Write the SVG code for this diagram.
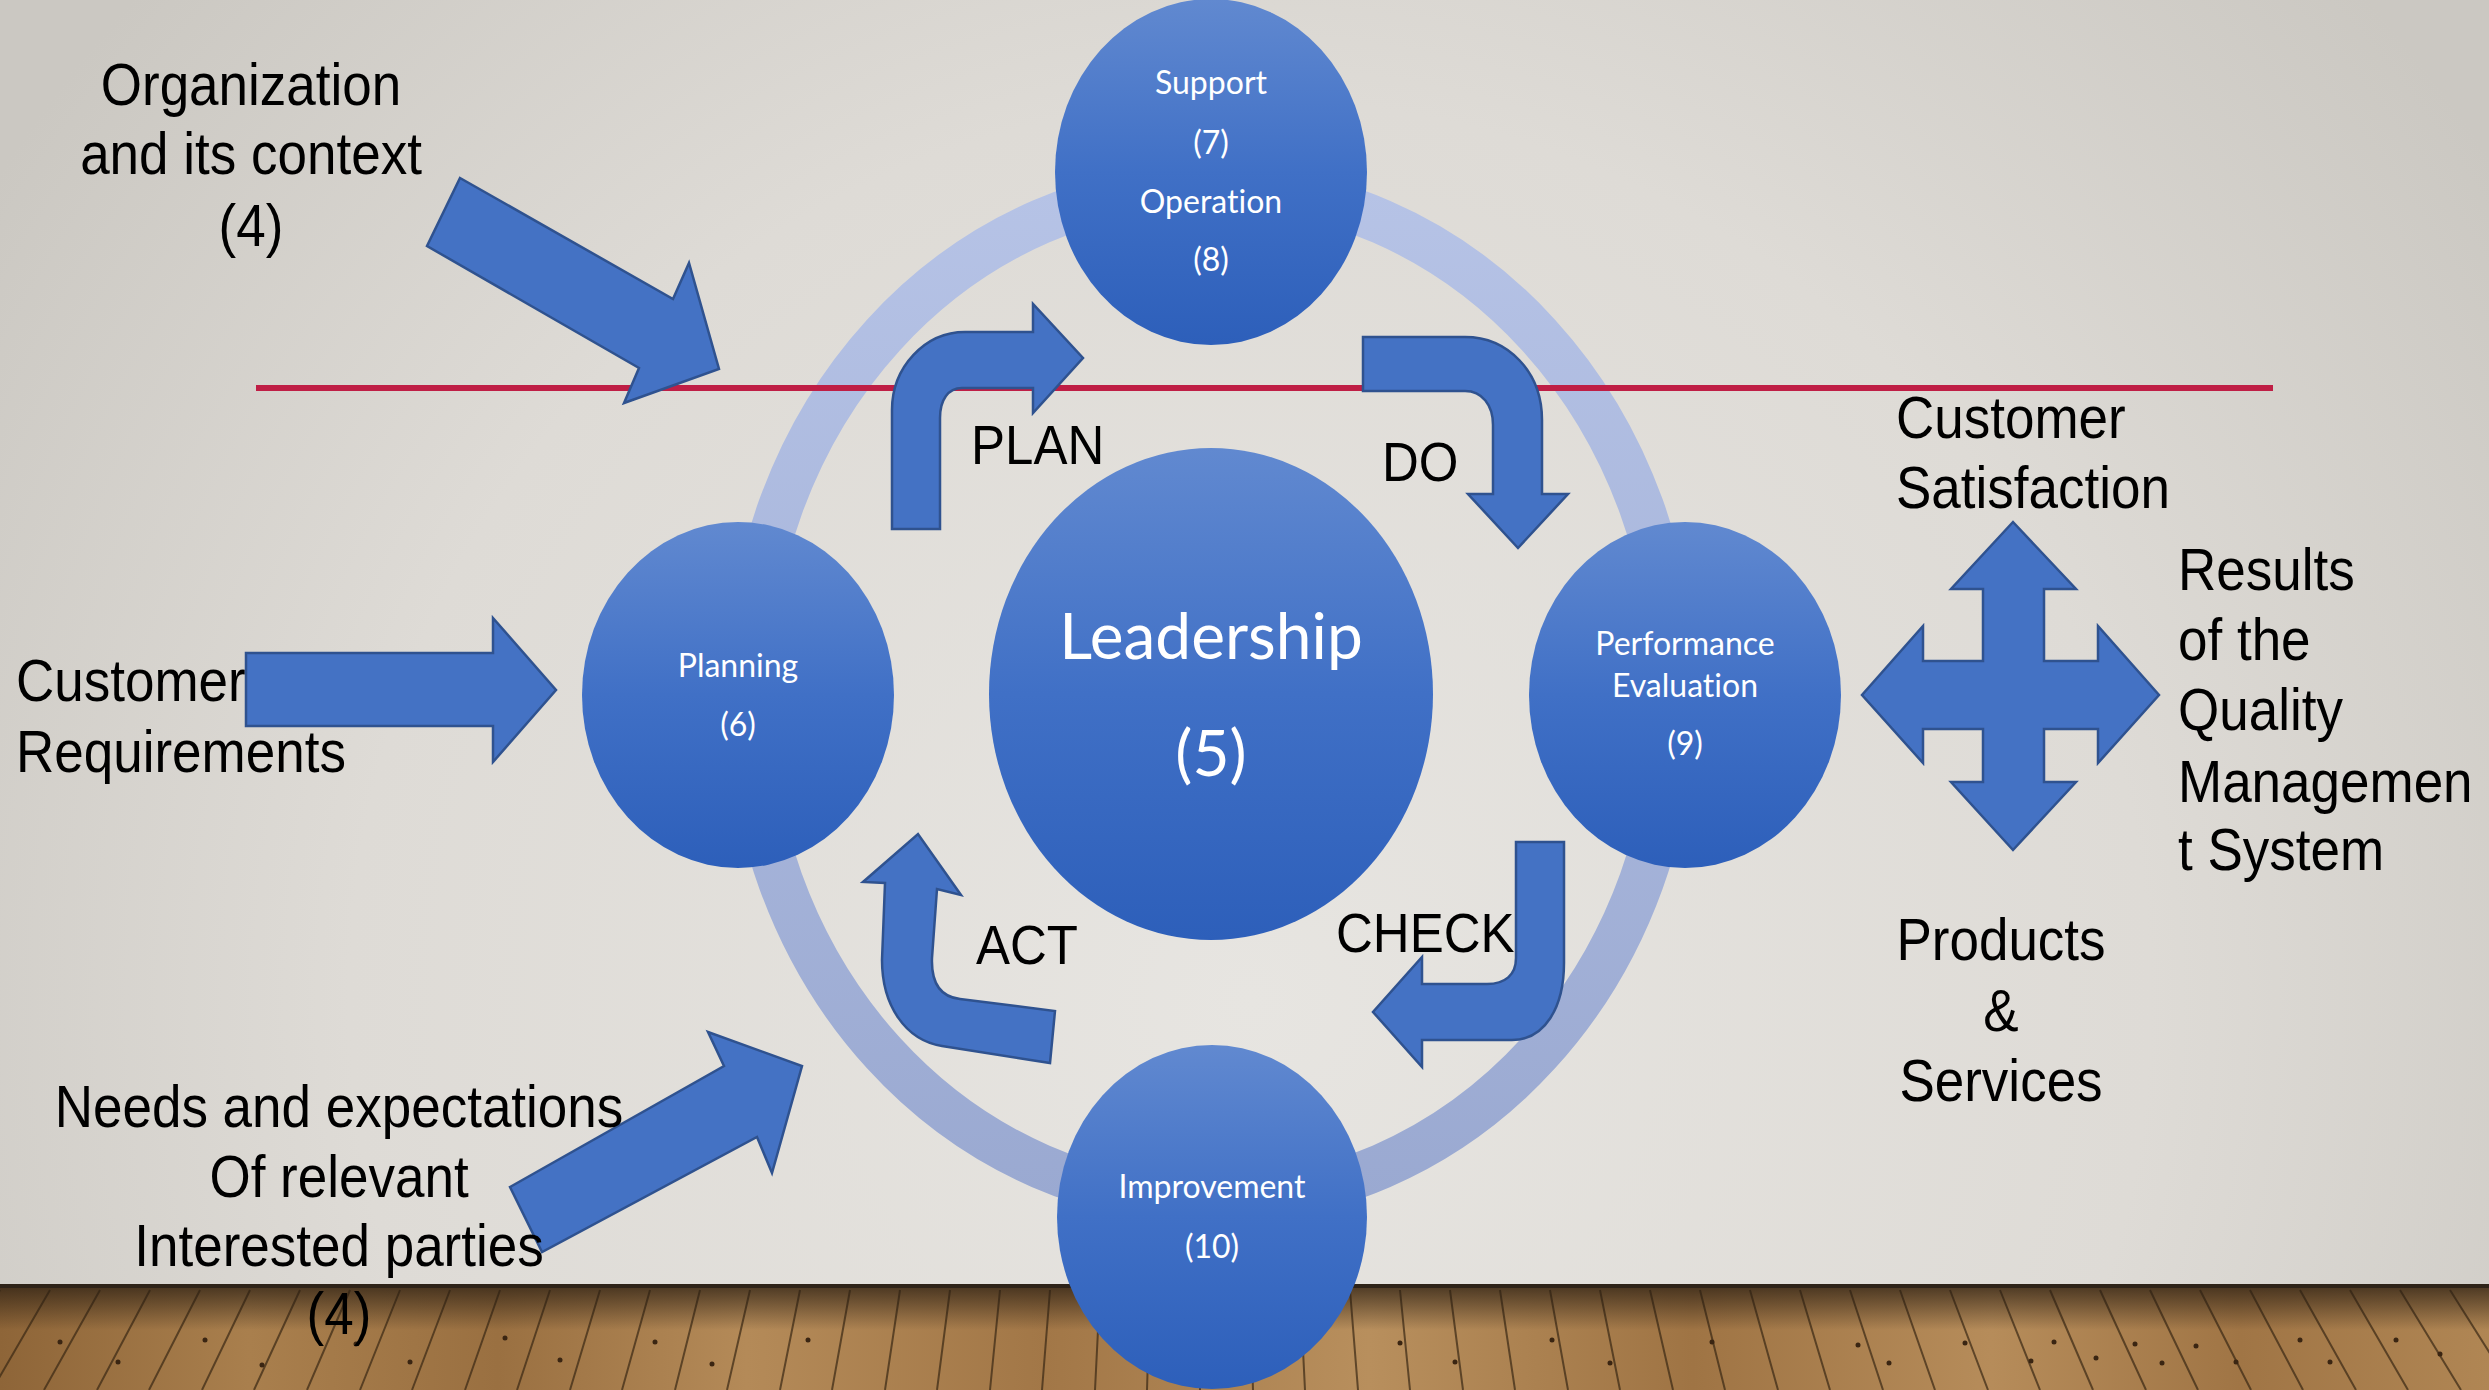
<svg xmlns="http://www.w3.org/2000/svg" width="2489" height="1390" viewBox="0 0 2489 1390">
<defs>
<radialGradient id="wall" cx="1250" cy="1000" r="1500" gradientUnits="userSpaceOnUse">
<stop offset="0" stop-color="#e7e5e1"/>
<stop offset="0.6" stop-color="#dedbd6"/>
<stop offset="1" stop-color="#cbc8c2"/>
</radialGradient>
<linearGradient id="wood" x1="0" y1="0" x2="2489" y2="0" gradientUnits="userSpaceOnUse">
<stop offset="0" stop-color="#8e6538"/>
<stop offset="0.1" stop-color="#a97f4d"/>
<stop offset="0.2" stop-color="#9a7041"/>
<stop offset="0.3" stop-color="#b48a58"/>
<stop offset="0.42" stop-color="#a27747"/>
<stop offset="0.55" stop-color="#b88f5d"/>
<stop offset="0.68" stop-color="#9f7444"/>
<stop offset="0.8" stop-color="#b68c5a"/>
<stop offset="0.9" stop-color="#a07545"/>
<stop offset="1" stop-color="#b08654"/>
</linearGradient>
<linearGradient id="floorShade" x1="0" y1="1286" x2="0" y2="1330" gradientUnits="userSpaceOnUse">
<stop offset="0" stop-color="#2a1e12" stop-opacity="0.75"/>
<stop offset="1" stop-color="#2a1e12" stop-opacity="0"/>
</linearGradient>
<linearGradient id="ringGrad" x1="0" y1="186" x2="0" y2="1202" gradientUnits="userSpaceOnUse">
<stop offset="0" stop-color="#b6c3e6"/>
<stop offset="1" stop-color="#9aa9d1"/>
</linearGradient>
<linearGradient id="ballGrad" x1="0" y1="0" x2="0" y2="1">
<stop offset="0" stop-color="#6189d0"/>
<stop offset="0.5" stop-color="#4070c6"/>
<stop offset="1" stop-color="#2d5fba"/>
</linearGradient>
<style>
.ball{fill:url(#ballGrad);}
.btxt{fill:#ffffff;font-family:Lato,"Open Sans",sans-serif;font-size:32px;text-anchor:middle;font-variant-ligatures:none;}
.big{font-size:64px;}
.lbl{fill:#000000;font-family:"Liberation Sans",Arial,sans-serif;font-size:53px;}
.pdca{font-size:51px;}
.mid{text-anchor:middle;}
.blk{fill:#4472c4;stroke:#2f528f;stroke-width:2.5;stroke-linejoin:miter;}
.plank{stroke:#3a2814;stroke-width:2;opacity:0.7;}
.nail{fill:#3a2512;}
</style>
</defs>

<!-- wall -->
<rect x="0" y="0" width="2489" height="1390" fill="url(#wall)"/>

<!-- floor -->
<g id="floor">
<rect x="0" y="1286" width="2489" height="104" fill="url(#wood)"/>
<path class="plank" d="M0,1290L-61,1390M50,1290L-8,1390M100,1290L44,1390M150,1290L97,1390M200,1290L149,1390M250,1290L202,1390M300,1290L254,1390M350,1290L307,1390M400,1290L360,1390M450,1290L412,1390M500,1290L465,1390M550,1290L517,1390M600,1290L570,1390M650,1290L622,1390M700,1290L675,1390M750,1290L727,1390M800,1290L780,1390M850,1290L832,1390M900,1290L885,1390M950,1290L937,1390M1000,1290L990,1390M1050,1290L1042,1390M1100,1290L1095,1390M1150,1290L1147,1390M1200,1290L1200,1390M1250,1290L1253,1390M1300,1290L1305,1390M1350,1290L1358,1390M1400,1290L1410,1390M1450,1290L1463,1390M1500,1290L1515,1390M1550,1290L1568,1390M1600,1290L1620,1390M1650,1290L1673,1390M1700,1290L1725,1390M1750,1290L1778,1390M1800,1290L1830,1390M1850,1290L1883,1390M1900,1290L1935,1390M1950,1290L1988,1390M2000,1290L2040,1390M2050,1290L2093,1390M2100,1290L2146,1390M2150,1290L2198,1390M2200,1290L2251,1390M2250,1290L2303,1390M2300,1290L2356,1390M2350,1290L2408,1390M2400,1290L2461,1390M2450,1290L2513,1390"/>
<g class="nail">
<circle cx="60" cy="1342" r="2.5"/><circle cx="118" cy="1362" r="2.5"/><circle cx="205" cy="1340" r="2.5"/><circle cx="262" cy="1365" r="2.5"/>
<circle cx="356" cy="1344" r="2.5"/><circle cx="410" cy="1362" r="2.5"/><circle cx="505" cy="1338" r="2.5"/><circle cx="560" cy="1360" r="2.5"/>
<circle cx="655" cy="1342" r="2.5"/><circle cx="712" cy="1364" r="2.5"/><circle cx="808" cy="1340" r="2.5"/><circle cx="1400" cy="1343" r="2.5"/>
<circle cx="1455" cy="1362" r="2.5"/><circle cx="1552" cy="1340" r="2.5"/><circle cx="1610" cy="1363" r="2.5"/><circle cx="1712" cy="1342" r="2.5"/>
<circle cx="1858" cy="1345" r="2.5"/><circle cx="1889" cy="1363" r="2.5"/><circle cx="1965" cy="1343" r="2.5"/><circle cx="2031" cy="1361" r="2.5"/>
<circle cx="2054" cy="1342" r="2.5"/><circle cx="2096" cy="1358" r="2.5"/><circle cx="2135" cy="1344" r="2.5"/><circle cx="2162" cy="1363" r="2.5"/>
<circle cx="2196" cy="1346" r="2.5"/><circle cx="2236" cy="1362" r="2.5"/><circle cx="2300" cy="1340" r="2.5"/><circle cx="2330" cy="1362" r="2.5"/>
<circle cx="2396" cy="1340" r="2.5"/><circle cx="2440" cy="1354" r="2.5"/>
</g>
<rect x="0" y="1286" width="2489" height="44" fill="url(#floorShade)"/>
<rect x="0" y="1284" width="2489" height="4" fill="#2e2318"/>
</g>

<!-- cycle ring -->
<ellipse id="ring" cx="1211" cy="694" rx="463" ry="508" fill="none" stroke="url(#ringGrad)" stroke-width="45"/>

<!-- red divider line -->
<line x1="256" y1="388" x2="2273" y2="388" stroke="#bf1e45" stroke-width="6"/>

<!-- nodes -->
<g id="node-support">
<ellipse class="ball" cx="1211" cy="172" rx="156" ry="173"/>
<text class="btxt" x="1211" y="94">Support</text>
<text class="btxt" x="1211" y="154">(7)</text>
<text class="btxt" x="1211" y="213">Operation</text>
<text class="btxt" x="1211" y="271">(8)</text>
</g>
<g id="node-planning">
<ellipse class="ball" cx="738" cy="695" rx="156" ry="173"/>
<text class="btxt" x="738" y="677">Planning</text>
<text class="btxt" x="738" y="736">(6)</text>
</g>
<g id="node-leadership">
<ellipse class="ball" cx="1211" cy="694" rx="222" ry="246"/>
<text class="btxt big" x="1211" y="659">Leadership</text>
<text class="btxt big" x="1211" y="776">(5)</text>
</g>
<g id="node-performance">
<ellipse class="ball" cx="1685" cy="695" rx="156" ry="173"/>
<text class="btxt" x="1685" y="655">Performance</text>
<text class="btxt" x="1685" y="697">Evaluation</text>
<text class="btxt" x="1685" y="755">(9)</text>
</g>
<g id="node-improvement">
<ellipse class="ball" cx="1212" cy="1217" rx="155" ry="172"/>
<text class="btxt" x="1212" y="1198">Improvement</text>
<text class="btxt" x="1212" y="1258">(10)</text>
</g>

<!-- label under its arrow -->
<g id="label-customer-req">
<text class="lbl" transform="translate(16,701) scale(1,1.1)"><tspan x="0" y="0">Customer</tspan><tspan x="0" y="64.5">Requirements</tspan></text>
</g>

<!-- connectors (block arrows) -->
<g id="connectors">
<path id="arrow-context" class="blk" d="M460,178 L673,299 L689,263 L719,369 L624,403 L639,368 L427,246 Z"/>
<path id="arrow-customer" class="blk" d="M246,653 L493,653 L493,618 L556,690 L493,762 L493,726 L246,726 Z"/>
<path id="arrow-needs" class="blk" d="M510,1187 L724,1066 L708,1032 L802,1066 L772,1173 L757,1137 L542,1252 Z"/>
<path id="arrow-plan" class="blk" d="M892,529 L892,410 C892,367 925,332 965,332 L1033,332 L1033,304 L1083,358 L1033,413 L1033,388 L962,388 C948,388 940,400 940,418 L940,529 Z"/>
<path id="arrow-do" class="blk" d="M1363,337 L1465,337 C1508,337 1542,372 1542,420 L1542,494 L1568,494 L1518,548 L1468,494 L1493,494 L1493,425 C1493,405 1482,391 1465,391 L1363,391 Z"/>
<path id="arrow-check" class="blk" d="M1516,842 L1564,842 L1564,963 C1564,1007 1545,1040 1512,1040 L1422,1040 L1422,1067 L1373,1012 L1422,957 L1422,984 L1487,984 C1505,984 1516,975 1516,958 Z"/>
<path id="arrow-act" class="blk" d="M1055,1011 L1050,1063 L942,1046 C905,1040 882,1005 882,960 L885,883 L863,882 L918,834 L961,895 L937,889 L932,958 C931,985 942,997 960,999 Z"/>
<path id="arrow-results" class="blk" d="M2013,522 L2076,589 L2044,589 L2044,661 L2098,661 L2098,626 L2159,695 L2098,763 L2098,729 L2044,729 L2044,782 L2076,782 L2013,850 L1951,782 L1983,782 L1983,729 L1923,729 L1923,763 L1862,695 L1923,626 L1923,661 L1983,661 L1983,589 L1951,589 Z"/>
</g>

<!-- labels -->
<g id="labels">
<text class="lbl mid" transform="translate(251,105) scale(1,1.1)"><tspan x="0" y="0">Organization</tspan><tspan x="0" y="62.7">and its context</tspan><tspan x="0" y="128">(4)</tspan></text>
<text class="lbl mid" transform="translate(339,1127) scale(1,1.1)"><tspan x="0" y="0">Needs and expectations</tspan><tspan x="0" y="63.6">Of relevant</tspan><tspan x="0" y="126.4">Interested parties</tspan><tspan x="0" y="188.2">(4)</tspan></text>
<text class="lbl" transform="translate(1896,438) scale(1,1.1)"><tspan x="0" y="0">Customer</tspan><tspan x="0" y="63.6">Satisfaction</tspan></text>
<text class="lbl" transform="translate(2178,590) scale(1,1.1)"><tspan x="0" y="0">Results</tspan><tspan x="0" y="63.6">of the</tspan><tspan x="0" y="127.3">Quality</tspan><tspan x="0" y="192.7">Managemen</tspan><tspan x="0" y="254.5">t System</tspan></text>
<text class="lbl mid" transform="translate(2001,960) scale(1,1.1)"><tspan x="0" y="0">Products</tspan><tspan x="0" y="64.5">&amp;</tspan><tspan x="0" y="128.2">Services</tspan></text>
<text class="lbl pdca" transform="translate(971,464) scale(1,1.1)">PLAN</text>
<text class="lbl pdca" transform="translate(1382,481) scale(1,1.1)">DO</text>
<text class="lbl pdca" transform="translate(976,964) scale(1,1.1)">ACT</text>
<text class="lbl pdca" transform="translate(1336,952) scale(1,1.1)">CHECK</text>
</g>
</svg>
